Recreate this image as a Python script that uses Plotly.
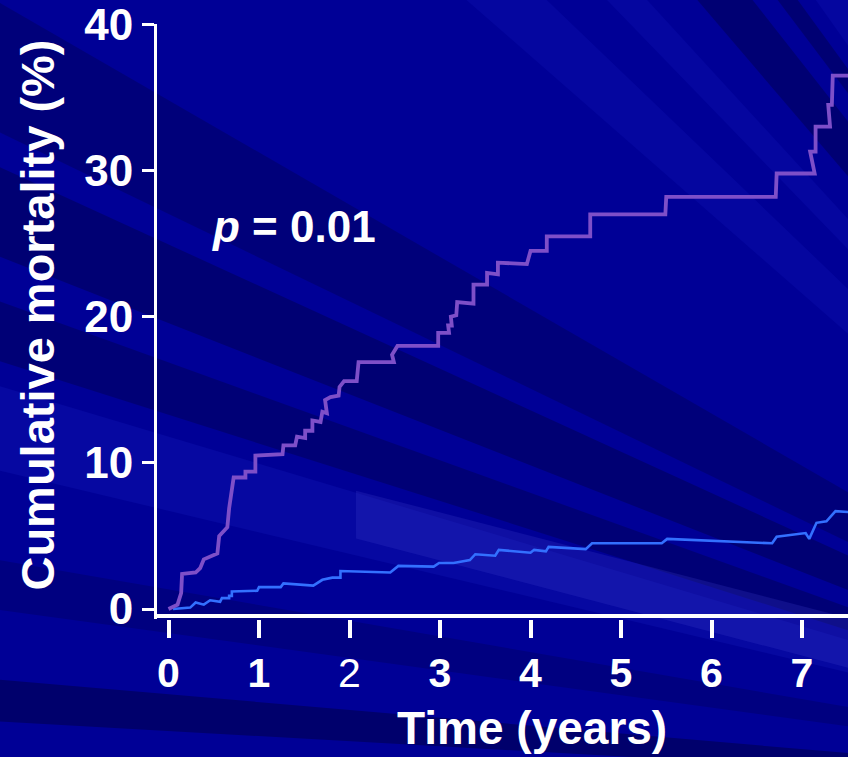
import plotly.graph_objects as go

# Cumulative mortality curves (years, %)
group_a_years = [0.0, 0.10, 0.14, 0.15, 0.30, 0.35, 0.39, 0.54, 0.56, 0.65, 0.67, 0.69, 0.72,
                 0.85, 0.85, 0.96, 0.96, 1.26, 1.27, 1.40, 1.42, 1.51, 1.51, 1.59, 1.59, 1.68,
                 1.70, 1.75, 1.73, 1.79, 1.88, 1.89, 1.94, 2.08, 2.10, 2.49, 2.47, 2.53, 2.98,
                 2.98, 3.10, 3.09, 3.13, 3.12, 3.18, 3.19, 3.37, 3.37, 3.52, 3.52, 3.64, 3.64,
                 3.96, 4.00, 4.18, 4.18, 4.66, 4.66, 5.49, 5.50, 6.71, 6.72, 7.14, 7.09, 7.15,
                 7.15, 7.31, 7.29, 7.33, 7.34, 7.60]
group_a_mortality = [0.0, 0.3, 1.1, 2.4, 2.5, 2.8, 3.4, 3.8, 5.0, 5.6, 6.9, 7.9, 9.0,
                     9.0, 9.4, 9.4, 10.5, 10.6, 11.2, 11.2, 11.8, 11.7, 12.2, 12.2, 12.9, 12.8,
                     13.5, 13.4, 14.3, 14.5, 14.6, 15.2, 15.6, 15.6, 16.9, 16.9, 17.4, 18.0, 18.0,
                     18.9, 18.9, 19.4, 19.4, 20.0, 20.1, 21.0, 20.9, 22.2, 22.2, 23.0, 22.9, 23.7,
                     23.6, 24.5, 24.5, 25.5, 25.5, 27.0, 27.0, 28.2, 28.2, 29.8, 29.8, 31.3, 31.3,
                     33.0, 33.0, 34.5, 34.5, 36.5, 36.5]

group_b_years = [0.05, 0.24, 0.30, 0.39, 0.46, 0.57, 0.59, 0.67, 0.67, 0.70, 0.70, 0.98, 1.00,
                 1.24, 1.27, 1.60, 1.70, 1.81, 1.90, 1.90, 2.45, 2.54, 2.93, 2.99, 3.15, 3.33,
                 3.39, 3.61, 3.65, 4.00, 4.04, 4.17, 4.20, 4.61, 4.68, 5.45, 5.51, 6.67, 6.72,
                 7.04, 7.08, 7.16, 7.27, 7.37, 7.60]
group_b_mortality = [0.0, 0.1, 0.45, 0.3, 0.6, 0.5, 0.75, 0.75, 0.9, 0.9, 1.2, 1.25, 1.5,
                     1.5, 1.75, 1.6, 2.0, 2.15, 2.15, 2.6, 2.5, 2.95, 2.9, 3.15, 3.15, 3.35,
                     3.75, 3.65, 4.05, 3.85, 4.05, 3.95, 4.25, 4.1, 4.5, 4.5, 4.8, 4.5, 4.95,
                     5.2, 4.8, 5.9, 6.0, 6.7, 6.6]

x_tick_vals = [0, 1, 2, 3, 4, 5, 6, 7]
x_tick_text = ["<b>0</b>", "<b>1</b>", "2", "<b>3</b>", "<b>4</b>", "<b>5</b>", "<b>6</b>", "<b>7</b>"]
y_tick_vals = [0, 10, 20, 30, 40]
y_tick_text = ["0", "10", "20", "30", "40"]

p_value_text = "<i><b>p</b></i><b> = 0.01</b>"

# Page geometry (pixels)
W, H = 848, 757
M_L, M_R, M_T, M_B = 157, 0, 21, 138
PLOT_W = W - M_L - M_R
PLOT_H = H - M_T - M_B
FONT = "Liberation Sans, Arial, Helvetica, sans-serif"


def to_paper(xp, yp):
    return (xp - M_L) / PLOT_W, (H - M_B - yp) / PLOT_H


# Light rays of the slide background, fanning out from a point off the lower right
RAY_ORIGIN = (1380, 800)
left_rays = [  # (y where the ray meets the left edge: from, to), fill
    (0, 130, "rgba(0,0,60,0.30)"),
    (165, 255, "rgba(0,0,45,0.32)"),
    (300, 360, "rgba(0,0,45,0.30)"),
    (385, 470, "rgba(35,45,210,0.18)"),
    (560, 610, "rgba(0,0,50,0.22)"),
    (680, 722, "rgba(0,0,40,0.38)"),
]
top_rays = [  # (x where the ray meets the top edge: from, to), fill
    (470, 550, "rgba(35,45,220,0.14)"),
    (610, 650, "rgba(35,45,220,0.14)"),
    (700, 755, "rgba(0,0,45,0.32)"),
    (780, 800, "rgba(0,0,45,0.32)"),
    (818, 860, "rgba(35,45,220,0.14)"),
]


def wedge(p1, p2, fill):
    cx, cy = RAY_ORIGIN
    pts = [RAY_ORIGIN]
    for qx, qy in (p1, p2):
        pts.append((cx + 1.6 * (qx - cx), cy + 1.6 * (qy - cy)))
    path = "M " + " L ".join("%.4f,%.4f" % to_paper(*p) for p in pts) + " Z"
    return dict(type="path", xref="paper", yref="paper", path=path,
                fillcolor=fill, line=dict(width=0), layer="below")


shapes = []
for y0, y1, c in left_rays:
    shapes.append(wedge((0, y0), (0, y1), c))
for x0, x1, c in top_rays:
    shapes.append(wedge((x0, 0), (x1, 0), c))

# Pale highlight band in the lower right
band = [(356, 490), (848, 618), (848, 668), (356, 538)]
shapes.append(dict(type="path", xref="paper", yref="paper",
                   path="M " + " L ".join("%.4f,%.4f" % to_paper(*p) for p in band) + " Z",
                   fillcolor="rgba(70,70,210,0.22)", line=dict(width=0), layer="below"))

# Horizontal axis line, sitting just above the tick marks
ax_y = to_paper(0, 616)[1]
shapes.append(dict(type="line", xref="paper", yref="paper", x0=0, x1=1, y0=ax_y, y1=ax_y,
                   line=dict(color="white", width=4), layer="above"))

fig = go.Figure()
fig.add_trace(go.Scatter(x=group_b_years, y=group_b_mortality, mode="lines",
                         line=dict(color="#3370FF", width=2.6), showlegend=False,
                         cliponaxis=True))
fig.add_trace(go.Scatter(x=group_a_years, y=group_a_mortality, mode="lines",
                         line=dict(color="#7E4FC8", width=3.8), showlegend=False,
                         cliponaxis=True))

x_lo = -11.5 / 90.5
x_hi = (W - 168.5) / 90.5
y_unit = 14.69
y_lo = (609 - (H - M_B)) / y_unit
y_hi = (609 - M_T) / y_unit

fig.update_layout(
    width=W, height=H,
    margin=dict(l=M_L, r=M_R, t=M_T, b=M_B, pad=0),
    paper_bgcolor="#000096",
    plot_bgcolor="rgba(0,0,0,0)",
    font=dict(family=FONT, color="white"),
    shapes=shapes,
    xaxis=dict(range=[x_lo, x_hi], tickvals=x_tick_vals, ticktext=x_tick_text,
               showgrid=False, zeroline=False, showline=False,
               ticks="outside", ticklen=18, tickwidth=3.5, tickcolor="white",
               ticklabeloverflow="allow",
               tickfont=dict(family=FONT, size=41, color="white")),
    yaxis=dict(range=[y_lo, y_hi], tickvals=y_tick_vals, ticktext=y_tick_text,
               showgrid=False, zeroline=False, showline=True, linecolor="white", linewidth=3,
               ticks="outside", ticklen=12, tickwidth=3, tickcolor="white",
               ticklabeloverflow="allow",
               tickfont=dict(family=FONT, size=44, color="white", weight="bold")),
    annotations=[
        dict(x=(294 - 168.5) / 90.5, y=(609 - 225) / y_unit, xref="x", yref="y",
             text=p_value_text, showarrow=False, xanchor="center", yanchor="middle",
             font=dict(family=FONT, size=44, color="white")),
        dict(x=to_paper(532, 0)[0], y=to_paper(0, 729)[1], xref="paper", yref="paper",
             text="<b>Time (years)</b>", showarrow=False, xanchor="center", yanchor="middle",
             font=dict(family=FONT, size=46, color="white")),
        dict(x=to_paper(38, 0)[0], y=to_paper(0, 314)[1], xref="paper", yref="paper",
             text="<b>Cumulative mortality (%)</b>", showarrow=False, textangle=-90,
             xanchor="center", yanchor="middle",
             font=dict(family=FONT, size=47, color="white")),
    ],
)

fig.write_html("out.html")
